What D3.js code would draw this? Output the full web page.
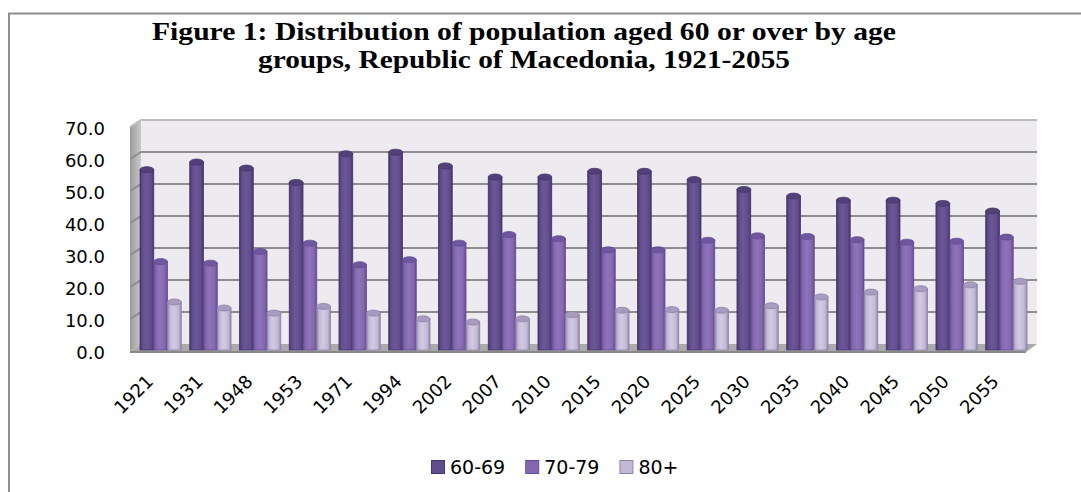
<!DOCTYPE html>
<html>
<head>
<meta charset="utf-8">
<script src="https://cdn.jsdelivr.net/npm/d3@7/dist/d3.min.js"></script>
<style>
    body { margin: 0; background: #fff; }
    svg { display: block; }
</style>
</head>
<body>
<div id="chart"></div>
<script>
// chart data
const years = ["1921", "1931", "1948", "1953", "1971", "1994", "2002", "2007", "2010",
    "2015", "2020", "2025", "2030", "2035", "2040", "2045", "2050", "2055"];
const seriesNames = ["60-69", "70-79", "80+"];
const age60to69 = [56.7, 59.1, 57.2, 52.7, 61.7, 62.2, 57.9, 54.4, 54.4, 56.2, 56.2, 53.6, 50.5, 48.4, 47.1, 47.1, 46.1, 43.7];
const age70to79 = [27.8, 27.3, 31.0, 33.6, 26.8, 28.4, 33.6, 36.3, 35.0, 31.5, 31.5, 34.5, 35.9, 35.7, 34.7, 33.9, 34.2, 35.5];
const age80plus = [15.1, 13.2, 11.6, 13.7, 11.6, 9.8, 8.8, 9.8, 11.1, 12.5, 12.7, 12.5, 13.9, 16.7, 18.2, 19.3, 20.5, 21.6];
const yTicks = [0, 10, 20, 30, 40, 50, 60, 70];
const titleLines = ["Figure 1: Distribution  of population aged 60 or over by age",
    "groups, Republic of Macedonia, 1921-2055"];

class BarVis {

    constructor(parentElement) {
        this.parentElement = parentElement;
        this.initVis();
    }

    initVis() {
        let vis = this;

        vis.width = 1081;
        vis.height = 492;

        vis.svg = d3.select("#" + vis.parentElement).append("svg")
            .attr("width", vis.width)
            .attr("height", vis.height);

        // outer frame (only top and left are visible in the crop)
        vis.svg.append("path")
            .attr("d", "M9,492 V13.5 H1081")
            .attr("fill", "none")
            .attr("stroke", "#8e8e8e")
            .attr("stroke-width", 2);

        // title
        let titleWidths = [744, 532];
        vis.svg.selectAll(".title")
            .data(titleLines)
            .enter()
            .append("text")
            .attr("class", "title")
            .attr("x", 524)
            .attr("y", (d, i) => 40 + i * 28)
            .attr("text-anchor", "middle")
            .attr("textLength", (d, i) => titleWidths[i])
            .attr("lengthAdjust", "spacingAndGlyphs")
            .style("font-family", "'Liberation Serif', 'Times New Roman', serif")
            .style("font-weight", "bold")
            .style("font-size", "25px")
            .text(d => d);

        // plot box (back wall)
        vis.wall = {left: 141, right: 1037, top: 120, bottom: 344};
        vis.depth = {dx: 11, dy: 8};

        // scales
        vis.y = d3.scaleLinear().domain([0, 70]).range([vis.wall.bottom, vis.wall.top]);
        vis.yBar = d3.scaleLinear().domain([0, 70]).range([350, 127.4]);

        vis.x = d3.scaleBand()
            .domain(years)
            .range([140, 1027])
            .paddingInner(0.17)
            .paddingOuter(0);

        vis.xInner = d3.scaleBand()
            .domain(seriesNames)
            .range([0, vis.x.bandwidth()]);

        vis.colors = d3.scaleOrdinal()
            .domain(seriesNames)
            .range([
                {edge: "#46356a", mid: "#614d8d", light: "#6c5899", cap: "#52407a"},
                {edge: "#644d90", mid: "#8467b0", light: "#8f74ba", cap: "#6f56a0"},
                {edge: "#8f84a8", mid: "#c3b9d7", light: "#d2cae2", cap: "#a79cc0"}
            ]);

        vis.defs = vis.svg.append("defs");

        // left side wall gradient
        let sideGrad = vis.defs.append("linearGradient")
            .attr("id", "sideGrad")
            .attr("x1", "0%").attr("x2", "100%");
        sideGrad.append("stop").attr("offset", "0%").attr("stop-color", "#9b9b9b");
        sideGrad.append("stop").attr("offset", "100%").attr("stop-color", "#c9c9c9");

        // bar gradients (cylinder look)
        seriesNames.forEach((s, i) => {
            let c = vis.colors(s);
            let g = vis.defs.append("linearGradient")
                .attr("id", "barGrad" + i)
                .attr("x1", "0%").attr("x2", "100%");
            [[0, c.edge], [0.18, c.mid], [0.45, c.light], [0.8, c.mid], [1, c.edge]].forEach(st => {
                g.append("stop").attr("offset", st[0] * 100 + "%").attr("stop-color", st[1]);
            });
        });

        vis.wrangleData();
    }

    wrangleData() {
        let vis = this;

        let seriesValues = [age60to69, age70to79, age80plus];

        vis.displayData = [];
        years.forEach((yr, j) => {
            seriesNames.forEach((s, i) => {
                vis.displayData.push({year: yr, series: s, index: i, value: seriesValues[i][j]});
            });
        });

        vis.updateVis();
    }

    updateVis() {
        let vis = this;
        let w = vis.wall, dp = vis.depth;

        // back wall
        vis.svg.append("rect")
            .attr("x", w.left)
            .attr("y", w.top)
            .attr("width", w.right - w.left)
            .attr("height", w.bottom - w.top)
            .attr("fill", "#edebf0");

        // left side wall
        vis.svg.append("path")
            .attr("d", `M${w.left - dp.dx},${w.top + 7} L${w.left},${w.top} L${w.left},${w.bottom} L${w.left - dp.dx},${w.bottom + dp.dy} Z`)
            .attr("fill", "url(#sideGrad)");

        // gridlines on the back wall and side wall
        let grid = vis.svg.append("g").attr("class", "grid");
        grid.selectAll(".gl")
            .data(yTicks.filter(d => d > 0 && d < 70))
            .enter()
            .append("path")
            .attr("class", "gl")
            .attr("d", d => `M${w.left - dp.dx},${vis.y(d) + 7} L${w.left},${vis.y(d)} H${w.right}`)
            .attr("fill", "none")
            .attr("stroke", "#8d8d8d")
            .attr("stroke-width", 2);

        // top edge of the wall
        vis.svg.append("path")
            .attr("d", `M${w.left - dp.dx},${w.top + 7} L${w.left},${w.top} H${w.right}`)
            .attr("fill", "none")
            .attr("stroke", "#bdbdbd")
            .attr("stroke-width", 2);

        // floor
        vis.svg.append("path")
            .attr("d", `M${w.left},${w.bottom} H${w.right} L${w.right - dp.dx},${w.bottom + dp.dy} H${w.left - dp.dx} Z`)
            .attr("fill", "#aaaaaa");
        vis.svg.append("line")
            .attr("x1", w.left - dp.dx).attr("x2", w.right - dp.dx)
            .attr("y1", w.bottom + dp.dy).attr("y2", w.bottom + dp.dy)
            .attr("stroke", "#8a8a8a")
            .attr("stroke-width", 2);

        // bars
        let bw = vis.xInner.bandwidth();
        let capRy = 3;
        let bars = vis.svg.append("g").attr("class", "bars")
            .selectAll(".bar")
            .data(vis.displayData)
            .enter()
            .append("g")
            .attr("class", "bar")
            .attr("transform", d => `translate(${vis.x(d.year) + vis.xInner(d.series)},0)`);

        bars.append("rect")
            .attr("x", 0)
            .attr("y", d => vis.yBar(d.value))
            .attr("width", bw)
            .attr("height", d => 350 - vis.yBar(d.value))
            .attr("fill", d => `url(#barGrad${d.index})`)
            .attr("stroke", d => vis.colors(d.series).edge)
            .attr("stroke-width", 0.8);

        bars.append("ellipse")
            .attr("cx", bw / 2)
            .attr("cy", d => vis.yBar(d.value))
            .attr("rx", bw / 2)
            .attr("ry", capRy)
            .attr("fill", d => vis.colors(d.series).cap)
            .attr("stroke", d => vis.colors(d.series).edge)
            .attr("stroke-width", 0.8);

        // y axis labels
        vis.svg.append("g").attr("class", "y-labels")
            .selectAll("text")
            .data(yTicks)
            .enter()
            .append("text")
            .attr("x", 105)
            .attr("y", d => vis.y(d) + 8)
            .attr("text-anchor", "end")
            .attr("dominant-baseline", "central")
            .style("font-family", "'DejaVu Sans', Verdana, sans-serif")
            .style("font-size", "18px")
            .text(d => d3.format(".1f")(d));

        // x axis labels
        vis.svg.append("g").attr("class", "x-labels")
            .selectAll("text")
            .data(years)
            .enter()
            .append("text")
            .attr("transform", d => `translate(${vis.x(d) + vis.x.bandwidth() / 2 - 11},${378}) rotate(-45)`)
            .attr("text-anchor", "end")
            .attr("dominant-baseline", "central")
            .style("font-family", "'DejaVu Sans', Verdana, sans-serif")
            .style("font-size", "18px")
            .text(d => d);

        // legend
        let legend = vis.svg.append("g").attr("class", "legend");
        let items = legend.selectAll(".item")
            .data(seriesNames)
            .enter()
            .append("g")
            .attr("class", "item");

        items.append("rect")
            .attr("x", 0.5)
            .attr("y", -6.5)
            .attr("width", 13)
            .attr("height", 13)
            .attr("fill", d => vis.colors(d).mid)
            .attr("stroke", d => vis.colors(d).edge)
            .attr("stroke-width", 1);

        items.append("text")
            .attr("x", 19)
            .attr("y", 0)
            .attr("dominant-baseline", "central")
            .style("font-family", "'DejaVu Sans', Verdana, sans-serif")
            .style("font-size", "19px")
            .text(d => d);

        let offset = 431;
        items.each(function() {
            let g = d3.select(this);
            let tw = g.select("text").node().getComputedTextLength();
            g.attr("transform", `translate(${offset},467)`);
            offset += 19 + tw + 20;
        });
    }
}

let barVis = new BarVis("chart");
</script>
</body>
</html>
